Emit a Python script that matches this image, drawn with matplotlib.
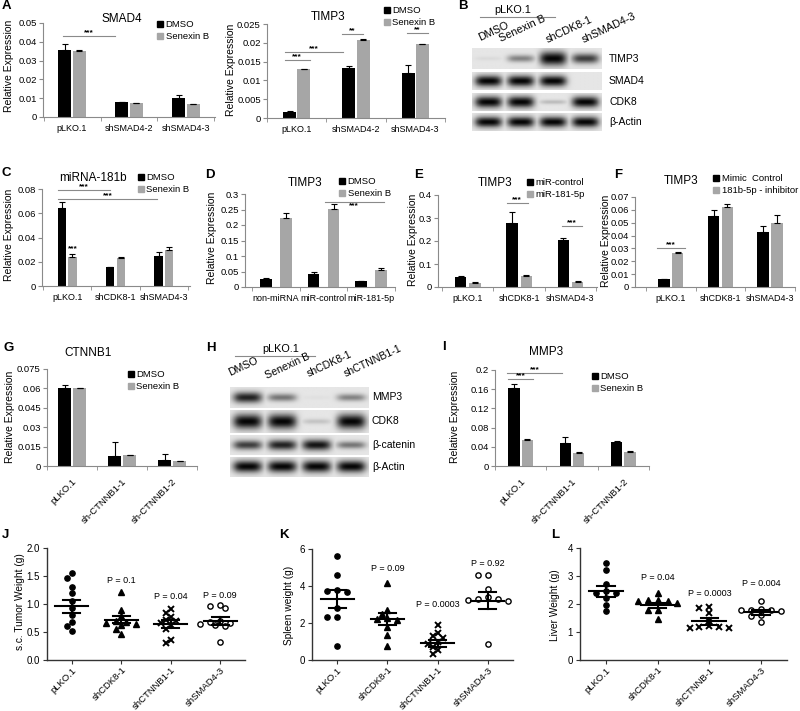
import numpy as np
import matplotlib
matplotlib.use("Agg")
import matplotlib.pyplot as plt
from matplotlib.patches import Patch

plt.rcParams["font.family"] = ["Liberation Sans", "DejaVu Sans"]

BLACK = "#000000"
GRAY = "#a6a6a6"
AXIS = "#8a8a8a"

# ---------------- data: bar panels ----------------
SMAD_CATS = ["pLKO.1", "shSMAD4-2", "shSMAD4-3"]
A1_DMSO, A1_DMSO_ERR = [0.0355, 0.0078, 0.0102], [0.0035, 0.0003, 0.0013]
A1_SEN, A1_SEN_ERR = [0.0353, 0.0073, 0.0068], [0.0003, 0.0003, 0.0003]
A2_DMSO, A2_DMSO_ERR = [0.0016, 0.0133, 0.0121], [0.0002, 0.0005, 0.0021]
A2_SEN, A2_SEN_ERR = [0.0130, 0.0208, 0.0197], [0.0001, 0.0001, 0.0001]

CDK_CATS = ["pLKO.1", "shCDK8-1", "shSMAD4-3"]
C_DMSO, C_DMSO_ERR = [0.0646, 0.0153, 0.0248], [0.0045, 0.0005, 0.0032]
C_SEN, C_SEN_ERR = [0.0240, 0.0231, 0.0294], [0.0022, 0.0005, 0.0025]

MIR_CATS = ["non-miRNA", "miR-control", "miR-181-5p"]
D_DMSO, D_DMSO_ERR = [0.027, 0.043, 0.018], [0.003, 0.004, 0.002]
D_SEN, D_SEN_ERR = [0.221, 0.251, 0.054], [0.019, 0.017, 0.006]

E_CTRL, E_CTRL_ERR = [0.042, 0.279, 0.205], [0.004, 0.045, 0.008]
E_MIR, E_MIR_ERR = [0.017, 0.048, 0.022], [0.003, 0.004, 0.002]

F_MIMIC, F_MIMIC_ERR = [0.0060, 0.0555, 0.0430], [0.0003, 0.0045, 0.0042]
F_INHIB, F_INHIB_ERR = [0.0265, 0.0620, 0.0500], [0.0010, 0.0022, 0.0060]

CTN_CATS = ["pLKO.1", "sh-CTNNB1-1", "sh-CTNNB1-2"]
G_DMSO, G_DMSO_ERR = [0.0605, 0.0075, 0.0045], [0.0025, 0.0110, 0.0050]
G_SEN, G_SEN_ERR = [0.0600, 0.0083, 0.0038], [0.0004, 0.0004, 0.0004]

I_DMSO, I_DMSO_ERR = [0.163, 0.048, 0.050], [0.007, 0.012, 0.002]
I_SEN, I_SEN_ERR = [0.055, 0.028, 0.030], [0.001, 0.001, 0.001]

# ---------------- data: blots (band darkness 0..1) ----------------
B_LANES = ["DMSO", "Senexin B", "shCDK8-1", "shSMAD4-3"]
B_ROWS = ["TIMP3", "SMAD4", "CDK8", "β-Actin"]
B_BANDS = [[0.04, 0.35, 1.0, 0.6],
           [0.9, 0.9, 0.9, 0.0],
           [0.95, 0.95, 0.15, 0.9],
           [0.85, 0.85, 0.85, 0.85]]

H_LANES = ["DMSO", "Senexin B", "shCDK8-1", "shCTNNB1-1"]
H_ROWS = ["MMP3", "CDK8", "β-catenin", "β-Actin"]
H_BANDS = [[0.7, 0.4, 0.02, 0.35],
           [0.95, 0.95, 0.12, 0.95],
           [0.6, 0.7, 0.75, 0.4],
           [0.8, 0.8, 0.8, 0.8]]

# ---------------- data: mouse panels ----------------
J_CATS = ["pLKO.1", "shCDK8-1", "shCTNNB1-1", "shSMAD4-3"]
J_VALS = [[1.56, 1.47, 1.31, 1.20, 1.05, 0.93, 0.80, 0.67, 0.60, 0.52],
          [1.22, 0.90, 0.78, 0.70, 0.68, 0.66, 0.65, 0.62, 0.56, 0.47],
          [0.91, 0.84, 0.77, 0.72, 0.70, 0.66, 0.62, 0.55, 0.36, 0.31],
          [0.99, 0.96, 0.93, 0.70, 0.68, 0.66, 0.64, 0.62, 0.60, 0.32]]
J_MEAN, J_SEM = [0.96, 0.72, 0.64, 0.70], [0.12, 0.06, 0.07, 0.07]
J_P = ["", "P = 0.1", "P = 0.04", "P = 0.09"]
J_PY = [0, 1.42, 1.13, 1.16]

K_VALS = [[5.6, 4.6, 3.8, 3.75, 3.7, 2.8, 2.35, 2.3, 0.75],
          [4.15, 2.7, 2.5, 2.25, 2.2, 2.15, 1.8, 1.35, 0.75],
          [1.9, 1.45, 1.3, 1.2, 0.95, 0.85, 0.7, 0.55, 0.35],
          [4.6, 4.6, 3.85, 3.4, 3.3, 3.3, 3.25, 3.2, 0.85]]
K_MEAN, K_SEM = [3.28, 2.2, 0.9, 3.2], [0.48, 0.32, 0.18, 0.45]
K_P = ["", "P = 0.09", "P = 0.0003", "P = 0.92"]
K_PY = [0, 4.92, 2.98, 5.24]

L_CATS = ["pLKO.1", "shCDK8-1", "shCTNNB-1", "shSMAD4-3"]
L_VALS = [[3.45, 3.2, 2.7, 2.45, 2.4, 2.4, 2.2, 1.95, 1.75],
          [2.38, 2.15, 2.13, 2.12, 2.1, 2.05, 1.8, 1.78, 1.45],
          [1.88, 1.85, 1.68, 1.4, 1.2, 1.18, 1.17, 1.16, 1.15],
          [2.12, 1.82, 1.8, 1.8, 1.78, 1.75, 1.62, 1.58, 1.35]]
L_MEAN, L_SEM = [2.45, 1.96, 1.38, 1.70], [0.20, 0.09, 0.12, 0.08]
L_P = ["", "P = 0.04", "P = 0.0003", "P = 0.004"]
L_PY = [0, 2.93, 2.39, 2.72]

# ---------------- layout helpers (pixel coords, origin top-left) ----------------
W, H = 800, 711
fig = plt.figure(figsize=(W / 100, H / 100), dpi=100)


def add_ax(x0, y0, x1, y1):
    return fig.add_axes([x0 / W, 1 - y1 / H, (x1 - x0) / W, (y1 - y0) / H])


def ftext(x, y, s, **kw):
    fig.text(x / W, 1 - y / H, s, **kw)


def letter(x, y, s):
    ftext(x, y, s, fontsize=9.5, fontweight="bold", ha="left", va="center")


def bar_panel(rect, cats, a, ea, b, eb, ylim, yticks, xlim, width, off, rot=0):
    ax = add_ax(*rect)
    x = np.arange(len(cats))
    ek = dict(elinewidth=0.8, capsize=2, capthick=0.8, ecolor=BLACK)
    ax.bar(x - off, a, width, color=BLACK, yerr=[np.zeros(len(a)), ea], error_kw=ek)
    ax.bar(x + off, b, width, color=GRAY, yerr=[np.zeros(len(b)), eb], error_kw=ek)
    ax.set_xlim(*xlim)
    ax.set_ylim(*ylim)
    ax.set_yticks(yticks)
    ax.set_yticklabels([f"{v:g}" for v in yticks], fontsize=6.8)
    ax.set_xticks(x)
    if rot:
        ax.set_xticklabels(cats, fontsize=6.8, rotation=rot, ha="right",
                           rotation_mode="anchor")
    else:
        ax.set_xticklabels(cats, fontsize=6.5)
    ax.set_xticks(np.arange(-0.5, len(cats), 1), minor=True)
    ax.tick_params(axis="x", which="major", length=0, pad=5)
    ax.tick_params(axis="x", which="minor", length=3, color=AXIS, direction="out")
    ax.tick_params(axis="y", length=3, color=AXIS, pad=1.5)
    for s in ("top", "right"):
        ax.spines[s].set_visible(False)
    for s in ("left", "bottom"):
        ax.spines[s].set_color(AXIS)
        ax.spines[s].set_linewidth(0.8)
    return ax


def legend(ax, x, y, labels):
    hs = [Patch(color=BLACK), Patch(color=GRAY)]
    ax.legend(hs, labels, loc="upper left", bbox_to_anchor=(x / W, 1 - y / H),
              bbox_transform=fig.transFigure, frameon=False, fontsize=6.8,
              handlelength=0.6, handleheight=0.6, handletextpad=0.3,
              labelspacing=0.35, borderpad=0, borderaxespad=0)


def sig(ax, x1, x2, y, txt, below=False):
    ax.plot([x1, x2], [y, y], color=AXIS, lw=0.8, clip_on=False)
    ax.text((x1 + x2) / 2, y, txt, ha="center", va="top" if below else "bottom",
            fontsize=6, fontweight="bold", clip_on=False)


def band_image(vals, nx=160, ny=30):
    n = len(vals)
    xs = np.linspace(0, n, nx)[None, :]
    ys = np.linspace(-1, 1, ny)[:, None]
    dark = np.zeros((ny, nx))
    for j, v in enumerate(vals):
        if v <= 0:
            continue
        hx = np.exp(-np.abs((xs - j - 0.5) / 0.42) ** 4)
        vy = np.exp(-(ys / (0.18 + 0.5 * v)) ** 2)
        dark = np.maximum(dark, min(1.0, v * 1.25) * hx * vy)
    return 0.9 - 0.88 * np.clip(dark, 0, 1)


def blot(x0, x1, rows_px, bands, names, label_x):
    for (y0, y1), vals, name in zip(rows_px, bands, names):
        ax = add_ax(x0, y0, x1, y1)
        ax.imshow(band_image(vals), cmap="gray", vmin=0, vmax=1, aspect="auto",
                  extent=(0, len(vals), 0, 1), interpolation="bilinear")
        ax.set_axis_off()
        ftext(label_x, (y0 + y1) / 2, name, ha="left", va="center", fontsize=7.5)


def swarm(vals, sx, sy, d=5.5):
    vals = np.asarray(vals, float)
    out = np.zeros(len(vals))
    placed = []
    for i in np.argsort(vals)[::-1]:
        y = vals[i] * sy
        for k in [0, -1, 1, -2, 2, -3, 3, -4, 4, -5, 5]:
            xp = k * d * 0.9
            if all((xp - px) ** 2 + (y - py) ** 2 >= d * d for px, py in placed):
                break
        placed.append((xp, y))
        out[i] = xp / sx
    return out


MARKERS = [dict(marker="o", color=BLACK, mfc=BLACK),
           dict(marker="^", color=BLACK, mfc=BLACK),
           dict(marker="x", color=BLACK, mew=1.4),
           dict(marker="o", color=BLACK, mfc="white", mew=1.0)]


def dot_panel(rect, cats, vals, means, sems, ptxt, py, ylim, yticks, fmt):
    ax = add_ax(*rect)
    n = len(cats)
    sx = (rect[2] - rect[0]) / n
    sy = (rect[3] - rect[1]) / (ylim[1] - ylim[0])
    for i, (v, m, s) in enumerate(zip(vals, means, sems)):
        xo = swarm(v, sx, sy)
        ax.plot(i + xo, v, ls="none", ms=3.8, **MARKERS[i], zorder=3)
        ax.plot([i - 0.33, i + 0.33], [m, m], color=BLACK, lw=1.5, zorder=4)
        ax.plot([i - 0.17, i + 0.17], [m + s, m + s], color=BLACK, lw=1.5, zorder=4)
        ax.plot([i - 0.17, i + 0.17], [m - s, m - s], color=BLACK, lw=1.5, zorder=4)
        ax.plot([i, i], [m - s, m + s], color=BLACK, lw=1.5, zorder=4)
        if ptxt[i]:
            ax.text(i, py[i], ptxt[i], ha="center", va="center", fontsize=6.5)
    ax.set_xlim(-0.5, n - 0.5)
    ax.set_ylim(*ylim)
    ax.set_yticks(yticks)
    ax.set_yticklabels([fmt.format(t) for t in yticks], fontsize=7)
    ax.set_xticks(range(n))
    ax.set_xticklabels(cats, rotation=45, ha="right", rotation_mode="anchor",
                       fontsize=6.8)
    ax.tick_params(axis="both", length=3, width=0.8, color="#333333", pad=2)
    ax.tick_params(axis="x", pad=1)
    for s in ("top", "right"):
        ax.spines[s].set_visible(False)
    for s in ("left", "bottom"):
        ax.spines[s].set_color("#333333")
        ax.spines[s].set_linewidth(1.0)
    return ax


def ylab(x, y, s, fs=7.5):
    ftext(x, y, s, rotation=90, ha="center", va="center", fontsize=fs)


# ================= Row 1: A, B =================
letter(2, 6, "A")
ax = bar_panel((43, 23, 215, 117), SMAD_CATS, A1_DMSO, A1_DMSO_ERR, A1_SEN, A1_SEN_ERR,
               (0, 0.05), [0, 0.01, 0.02, 0.03, 0.04, 0.05], (-0.51, 2.51), 0.23, 0.13)
ftext(122, 19, "SMAD4", ha="center", va="center", fontsize=8.5)
legend(ax, 157, 20, ["DMSO", "Senexin B"])
sig(ax, -0.16, 0.75, 0.043, "***")
ylab(9, 66, "Relative Expression")

ax = bar_panel((267, 24, 445, 118), SMAD_CATS, A2_DMSO, A2_DMSO_ERR, A2_SEN, A2_SEN_ERR,
               (0, 0.025), [0, 0.005, 0.01, 0.015, 0.02, 0.025], (-0.5, 2.5), 0.22, 0.12)
ftext(328, 17, "TIMP3", ha="center", va="center", fontsize=8.5)
legend(ax, 384, 6, ["DMSO", "Senexin B"])
sig(ax, -0.2, 0.22, 0.0154, "***")
sig(ax, -0.2, 0.78, 0.0176, "***")
sig(ax, 0.76, 1.12, 0.0223, "**")
sig(ax, 1.86, 2.22, 0.0226, "**")
ylab(231, 70, "Relative Expression")

letter(458, 6, "B")
ftext(513, 10, "pLKO.1", ha="center", va="center", fontsize=7.8)
fig.add_artist(plt.Line2D([480 / W, 555 / W], [1 - 17 / H, 1 - 17 / H], color=AXIS, lw=0.8))
for lx, ly, name in zip([481, 502, 549, 585], [43, 44, 45, 45], B_LANES):
    ftext(lx, ly, name, rotation=25, ha="left", va="bottom", fontsize=7.8,
          rotation_mode="anchor")
blot(472, 602, [(48, 69), (72, 90), (93, 111), (113, 131)], B_BANDS, B_ROWS, 609)

# ================= Row 2: C, D, E, F =================
letter(2, 173, "C")
ax = bar_panel((42, 189, 190, 286), CDK_CATS, C_DMSO, C_DMSO_ERR, C_SEN, C_SEN_ERR,
               (0, 0.08), [0, 0.02, 0.04, 0.06, 0.08], (-0.52, 2.54), 0.17, 0.11)
ftext(93, 178, "miRNA-181b", ha="center", va="center", fontsize=8.5)
legend(ax, 138, 173, ["DMSO", "Senexin B"])
sig(ax, -0.19, 0.89, 0.079, "***")
sig(ax, -0.19, 1.86, 0.0715, "***")
ax.text(0.11, 0.0275, "***", ha="center", va="bottom", fontsize=6, fontweight="bold")
ylab(9, 235, "Relative Expression")

letter(205, 175, "D")
ax = bar_panel((245, 194, 395, 287), MIR_CATS, D_DMSO, D_DMSO_ERR, D_SEN, D_SEN_ERR,
               (0, 0.3), [0, 0.05, 0.1, 0.15, 0.2, 0.25, 0.3], (-0.65, 2.48), 0.24, 0.21)
ax.tick_params(axis="x", which="major", labelsize=6.5)
ftext(305, 183, "TIMP3", ha="center", va="center", fontsize=8.5)
legend(ax, 339, 177, ["DMSO", "Senexin B"])
sig(ax, 1.02, 2.27, 0.274, "***", below=True)
ylab(212, 238, "Relative Expression")

letter(414, 175, "E")
ax = bar_panel((438, 195, 597, 287), CDK_CATS, E_CTRL, E_CTRL_ERR, E_MIR, E_MIR_ERR,
               (0, 0.4), [0, 0.1, 0.2, 0.3, 0.4], (-0.58, 2.52), 0.22, 0.14)
ftext(495, 183, "TIMP3", ha="center", va="center", fontsize=8.5)
legend(ax, 527, 178, ["miR-control", "miR-181-5p"])
sig(ax, 0.76, 1.17, 0.365, "***")
sig(ax, 1.83, 2.23, 0.265, "***")
ylab(413, 240, "Relative Expression")

letter(614, 175, "F")
ax = bar_panel((635, 197, 795, 287), CDK_CATS, F_MIMIC, F_MIMIC_ERR, F_INHIB, F_INHIB_ERR,
               (0, 0.07), [0, 0.01, 0.02, 0.03, 0.04, 0.05, 0.06, 0.07],
               (-0.72, 2.48), 0.23, 0.14)
ftext(681, 181, "TIMP3", ha="center", va="center", fontsize=8.5)
legend(ax, 713, 174, ["Mimic  Control", "181b-5p - inhibitor"])
sig(ax, -0.28, 0.28, 0.030, "***")
ylab(606, 241, "Relative Expression")

# ================= Row 3: G, H, I =================
letter(4, 348, "G")
ax = bar_panel((47, 369, 197, 466), CTN_CATS, G_DMSO, G_DMSO_ERR, G_SEN, G_SEN_ERR,
               (0, 0.075), [0, 0.015, 0.03, 0.045, 0.06, 0.075], (-0.5, 2.5), 0.26, 0.15,
               rot=45)
ax.tick_params(axis="x", which="major", pad=8)
ftext(88, 353, "CTNNB1", ha="center", va="center", fontsize=8.5)
legend(ax, 128, 370, ["DMSO", "Senexin B"])
ylab(10, 417, "Relative Expression")

letter(206, 348, "H")
ftext(281, 349, "pLKO.1", ha="center", va="center", fontsize=7.8)
fig.add_artist(plt.Line2D([235 / W, 315 / W], [1 - 356 / H, 1 - 356 / H], color=AXIS, lw=0.8))
for lx, ly, name in zip([231, 268, 310, 347], [378, 381, 379, 379], H_LANES):
    ftext(lx, ly, name, rotation=25, ha="left", va="bottom", fontsize=7.6,
          rotation_mode="anchor")
blot(230, 368, [(387, 408), (410, 433), (435, 455), (457, 477)], H_BANDS, H_ROWS, 372)

letter(442, 347, "I")
ax = bar_panel((495, 370, 649, 466), CTN_CATS, I_DMSO, I_DMSO_ERR, I_SEN, I_SEN_ERR,
               (0, 0.2), [0, 0.04, 0.08, 0.12, 0.16, 0.2], (-0.35, 2.5), 0.22, 0.13,
               rot=45)
ax.tick_params(axis="x", which="major", pad=8)
ftext(546, 352, "MMP3", ha="center", va="center", fontsize=8.5)
legend(ax, 592, 372, ["DMSO", "Senexin B"])
sig(ax, -0.24, 0.24, 0.181, "***")
sig(ax, -0.26, 0.81, 0.194, "***")
ylab(455, 417, "Relative Expression")

# ================= Row 4: J, K, L =================
letter(2, 535, "J")
dot_panel((47, 548, 245, 660), J_CATS, J_VALS, J_MEAN, J_SEM, J_P, J_PY,
          (0, 2.0), [0, 0.5, 1.0, 1.5, 2.0], "{:.1f}")
ylab(20, 602, "s.c. Tumor Weight (g)", fs=7.3)

letter(279, 535, "K")
dot_panel((312, 549, 513, 660), J_CATS, K_VALS, K_MEAN, K_SEM, K_P, K_PY,
          (0, 6), [0, 2, 4, 6], "{:g}")
ylab(289, 605, "Spleen weight (g)", fs=7.3)

letter(551, 535, "L")
dot_panel((580, 548, 787, 660), L_CATS, L_VALS, L_MEAN, L_SEM, L_P, L_PY,
          (0, 4), [0, 1, 2, 3, 4], "{:g}")
ylab(555, 605, "Liver Weight (g)", fs=7.3)

fig.savefig("out.png", dpi=100, facecolor="white")
